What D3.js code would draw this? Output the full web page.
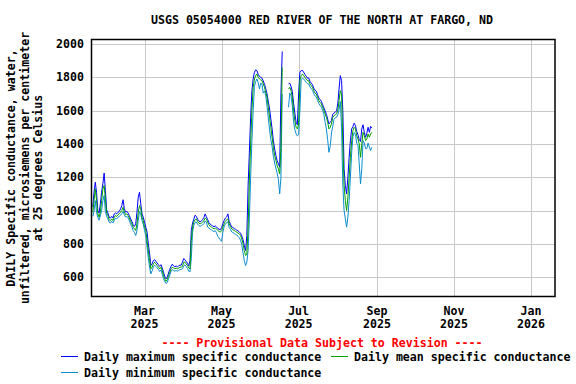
<!DOCTYPE html>
<html>
<head>
<meta charset="utf-8">
<script src="https://cdn.jsdelivr.net/npm/d3@7"></script>
<style>
  body { margin: 0; background: #fff; }
  svg { display: block; }
</style>
</head>
<body>
<svg id="chart" width="576" height="384"></svg>
<script>
// first day of record shown, one value per day after that
const firstDay = "2025-01-19"

const dailyMax = [
  1020, 1110, 1170, 1110, 1000, 985, 1040, 1110, 1160, 1225,
  1120, 1005, 985, 960, 955, 965, 955, 980, 985, 980,
  990, 995, 1010, 1030, 1065, 1010, 990, 995, 985, 970,
  950, 935, 915, 905, 920, 990, 1080, 1110, 1040, 980,
  960, 930, 900, 870, 800, 740, 670, 680, 700, 705,
  695, 685, 675, 665, 675, 655, 630, 605, 590, 600,
  625, 648, 665, 678, 668, 662, 668, 662, 668, 672,
  672, 690, 712, 705, 694, 684, 668, 700, 880, 925,
  948, 972, 965, 948, 938, 932, 938, 945, 958, 980,
  962, 945, 928, 918, 912, 908, 902, 908, 902, 892,
  888, 884, 898, 920, 940, 955, 962, 980, 935, 918,
  902, 898, 892, 888, 882, 878, 872, 864, 848, 825,
  790, 760, 850, 1150, 1350, 1560, 1720, 1790, 1830, 1845,
  1840, 1818, 1805, 1800, 1795, 1778, 1758, 1730, 1700, 1655,
  1610, 1550, 1490, 1420, 1370, 1330, 1300, 1280, 1260, 1700,
  1955, null, null, null, null, 1760, 1765, 1745, 1715, 1645,
  1585, 1530, 1515, 1700, 1830, 1840, 1842, 1830, 1818, 1806,
  1795, 1796, 1775, 1765, 1755, 1735, 1722, 1716, 1696, 1676,
  1666, 1656, 1636, 1616, 1598, 1578, 1550, 1520, 1530, 1540,
  1578, 1586, 1590, 1598, 1640, 1730, 1810, 1780, 1600, 1250,
  1150, 1100, 1200, 1320, 1420, 1490, 1505, 1525, 1510, 1475,
  1455, 1425, 1415, 1490, 1515, 1470, 1440, 1465, 1500, 1470,
  1505, 1495
]

const dailyMean = [
  990, 1060, 1130, 1060, 980, 960, 990, 1060, 1130, 1150,
  1070, 985, 970, 945, 940, 950, 940, 960, 970, 965,
  975, 980, 990, 1000, 1020, 990, 975, 980, 970, 955,
  935, 920, 900, 890, 880, 920, 990, 1030, 1010, 960,
  940, 900, 880, 820, 760, 700, 650, 660, 680, 690,
  680, 670, 660, 650, 660, 640, 610, 590, 575, 585,
  610, 630, 650, 660, 655, 650, 655, 650, 655, 660,
  660, 665, 690, 690, 680, 670, 655, 650, 820, 900,
  930, 945, 950, 935, 925, 920, 925, 930, 940, 955,
  950, 930, 915, 905, 900, 895, 890, 895, 890, 880,
  875, 870, 880, 900, 920, 935, 945, 950, 920, 905,
  890, 885, 880, 875, 870, 865, 860, 850, 830, 800,
  760, 730, 740, 900, 1180, 1400, 1600, 1740, 1790, 1810,
  1820, 1800, 1790, 1785, 1780, 1760, 1740, 1710, 1680, 1620,
  1560, 1500, 1440, 1380, 1330, 1300, 1270, 1250, 1220, 1380,
  1860, null, null, null, null, 1730, 1740, 1720, 1680, 1600,
  1540, 1500, 1490, 1520, 1780, 1810, 1820, 1810, 1800, 1790,
  1780, 1780, 1760, 1750, 1740, 1720, 1705, 1700, 1680, 1660,
  1650, 1640, 1620, 1600, 1580, 1560, 1530, 1490, 1500, 1520,
  1560, 1570, 1575, 1580, 1600, 1660, 1720, 1700, 1400, 1150,
  1060, 1000, 1080, 1200, 1320, 1420, 1480, 1500, 1490, 1450,
  1430, 1400, 1320, 1400, 1470, 1450, 1420, 1430, 1460, 1440,
  1460, 1470
]

const dailyMin = [
  965, 995, 1060, 990, 958, 942, 968, 1000, 1060, 1090,
  995, 965, 950, 930, 925, 935, 926, 942, 955, 950,
  960, 965, 972, 982, 995, 975, 960, 965, 955, 940,
  918, 902, 880, 868, 850, 880, 940, 995, 980, 940,
  918, 880, 850, 780, 715, 660, 620, 638, 662, 672,
  664, 656, 646, 634, 644, 618, 592, 574, 562, 568,
  592, 612, 636, 645, 640, 636, 640, 636, 640, 645,
  646, 650, 668, 674, 664, 652, 636, 632, 710, 870,
  912, 928, 932, 918, 910, 905, 910, 914, 922, 938,
  930, 900, 895, 888, 884, 878, 874, 880, 866, 845,
  835, 825, 815, 870, 902, 918, 928, 932, 898, 888,
  872, 868, 862, 858, 852, 846, 838, 822, 795, 745,
  700, 670, 690, 760, 950, 1200, 1420, 1600, 1745, 1775,
  1790, 1768, 1730, 1765, 1760, 1705, 1718, 1688, 1625, 1555,
  1485, 1425, 1385, 1325, 1285, 1255, 1225, 1185, 1100, 1200,
  1700, null, null, null, null, 1620, 1705, 1690, 1628, 1535,
  1485, 1462, 1448, 1455, 1600, 1785, 1795, 1790, 1780, 1770,
  1762, 1760, 1742, 1732, 1722, 1702, 1688, 1682, 1662, 1642,
  1632, 1620, 1600, 1578, 1530, 1490, 1425, 1350, 1385, 1465,
  1505, 1548, 1556, 1560, 1575, 1605, 1655, 1500, 1150, 1000,
  950, 900, 960, 1060, 1200, 1345, 1445, 1468, 1458, 1405,
  1392, 1280, 1160, 1250, 1420, 1405, 1372, 1372, 1405, 1382,
  1360, 1380
]

const monthTicks = ["2025-03-01", "2025-05-01", "2025-07-01", "2025-09-01", "2025-11-01", "2026-01-01"]
const yTicks = [600, 800, 1000, 1200, 1400, 1600, 1800, 2000]

const seriesNames = ["Daily maximum specific conductance", "Daily mean specific conductance", "Daily minimum specific conductance"]
const seriesColours = ["#0000ff", "#00a000", "#0a8ccf"]

const titleText = "USGS 05054000 RED RIVER OF THE NORTH AT FARGO, ND"
const yLabelLines = ["DAILY Specific conductance, water,", "unfiltered, microsiemens per centimeter", "at 25 degrees Celsius"]
const provisionalText = "---- Provisional Data Subject to Revision ----"

const font = "'DejaVu Sans Mono', 'Liberation Mono', monospace"
const margin = { top: 39.5, right: 555, bottom: 296.5, left: 91.5 }

const parse = d3.utcParse("%Y-%m-%d")
const start = parse(firstDay)
const toPoints = arr => arr.map((v, i) => ({ date: d3.utcDay.offset(start, i), v: v }))

const x = d3.scaleUtc()
  .domain([parse("2025-01-18"), parse("2026-01-20")])
  .range([margin.left, margin.right])

const y = d3.scaleLinear()
  .domain([484, 2027])
  .range([margin.bottom, margin.top])

const svg = d3.select("#chart")
  .attr("font-family", font)
  .attr("font-weight", "bold")

// title
svg.append("text")
  .attr("x", 322)
  .attr("y", 24)
  .attr("text-anchor", "middle")
  .attr("font-size", 11.6)
  .text(titleText)

// grid
const grid = svg.append("g")
  .attr("stroke", "#c8c8c8")
  .attr("shape-rendering", "crispEdges")

grid.selectAll("line.h")
  .data(yTicks)
  .join("line")
  .attr("class", "h")
  .attr("x1", margin.left).attr("x2", margin.right)
  .attr("y1", d => Math.round(y(d)) + 0.5).attr("y2", d => Math.round(y(d)) + 0.5)

grid.selectAll("line.v")
  .data(monthTicks.map(parse))
  .join("line")
  .attr("class", "v")
  .attr("y1", margin.top).attr("y2", margin.bottom)
  .attr("x1", d => Math.round(x(d)) + 0.5).attr("x2", d => Math.round(x(d)) + 0.5)

// y tick labels
svg.append("g")
  .selectAll("text")
  .data(yTicks)
  .join("text")
  .attr("x", 84)
  .attr("y", d => y(d))
  .attr("dy", "0.35em")
  .attr("text-anchor", "end")
  .attr("font-size", 11.6)
  .text(d => d)

// x tick labels, month over year
const xLabels = svg.append("g")
  .selectAll("text")
  .data(monthTicks.map(parse))
  .join("text")
  .attr("text-anchor", "middle")
  .attr("font-size", 11.6)
xLabels.append("tspan")
  .attr("x", d => x(d))
  .attr("y", 315)
  .text(d3.utcFormat("%b"))
xLabels.append("tspan")
  .attr("x", d => x(d))
  .attr("y", 328)
  .text(d3.utcFormat("%Y"))

// y axis title, three rotated lines
svg.append("g")
  .selectAll("text")
  .data(yLabelLines)
  .join("text")
  .attr("transform", (d, i) => `translate(${11 + i * 13.5},168) rotate(-90)`)
  .attr("text-anchor", "middle")
  .attr("dominant-baseline", "central")
  .attr("font-size", 11.6)
  .text(d => d)

// data lines
const line = d3.line()
  .defined(d => d.v != null)
  .x(d => x(d.date))
  .y(d => y(d.v))

const plot = svg.append("g")
const drawOrder = [[dailyMax, 0], [dailyMin, 2], [dailyMean, 1]]
drawOrder.forEach(([arr, k]) => {
  plot.append("path")
    .datum(toPoints(arr))
    .attr("fill", "none")
    .attr("stroke", seriesColours[k])
    .attr("stroke-width", 1)
    .attr("d", line)
})

// frame
svg.append("rect")
  .attr("x", margin.left)
  .attr("y", margin.top)
  .attr("width", margin.right - margin.left)
  .attr("height", margin.bottom - margin.top)
  .attr("fill", "none")
  .attr("stroke", "#000")
  .attr("stroke-width", 1.5)

// provisional note
svg.append("text")
  .attr("x", 322)
  .attr("y", 347)
  .attr("text-anchor", "middle")
  .attr("font-size", 11.6)
  .attr("fill", "#ff0000")
  .text(provisionalText)

// legend
const legendPos = [[61, 357], [331, 357], [61, 373]]
const legend = svg.append("g")
  .selectAll("g")
  .data(seriesNames)
  .join("g")
  .attr("transform", (d, i) => `translate(${legendPos[i][0]},${legendPos[i][1]})`)
legend.append("line")
  .attr("x1", 0).attr("x2", 17)
  .attr("y1", -0.5).attr("y2", -0.5)
  .attr("stroke", (d, i) => seriesColours[i])
legend.append("text")
  .attr("x", 23)
  .attr("dy", "0.35em")
  .attr("font-size", 11.6)
  .text(d => d)
</script>
</body>
</html>
